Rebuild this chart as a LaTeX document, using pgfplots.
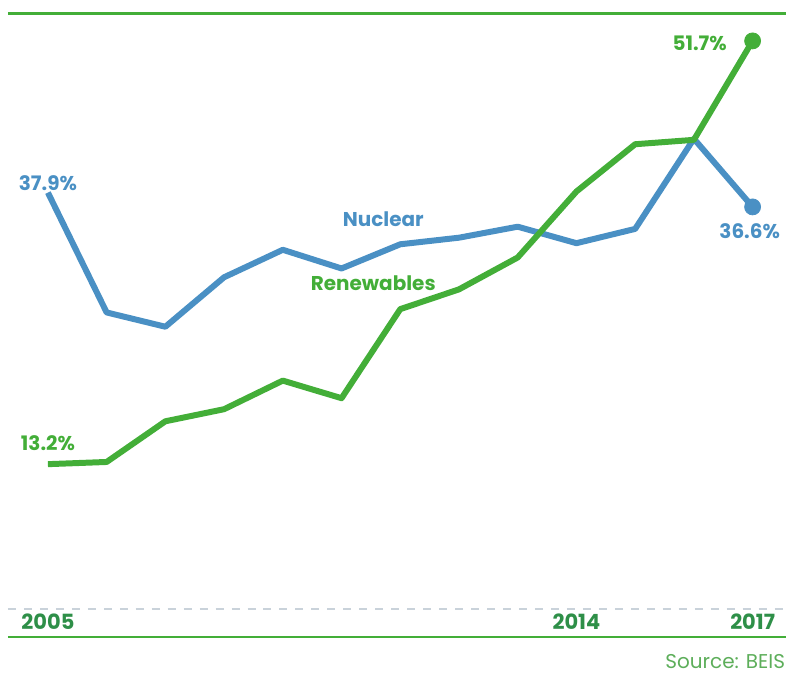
\documentclass[border=0pt]{standalone}
\usepackage{pgfplots}
\pgfplotsset{compat=1.18}
\usepackage{fontspec}
\setmainfont{Poppins}
\definecolor{nucblue}{HTML}{4A90C4}
\definecolor{rengreen}{HTML}{43AE38}
\definecolor{yeargreen}{HTML}{2E8F48}
\definecolor{srcgreen}{HTML}{5DAE5A}
\definecolor{zerogray}{HTML}{C9D2DA}

\begin{document}
\begin{tikzpicture}
  \begin{axis}[
    scale only axis,
    width=389.5pt, height=312pt,
    xmin=2004.32, xmax=2017.56,
    ymin=-2.5, ymax=54.15,
    axis lines=none,
    clip=false,
  ]
    % frame lines and zero line
    \draw[rengreen, line width=1.5pt] (rel axis cs:0,1) -- (rel axis cs:1,1);
    \draw[rengreen, line width=1.2pt] (rel axis cs:0,0) -- (rel axis cs:1,0);
    \draw[zerogray, line width=0.8pt, dash pattern=on 4pt off 4pt] (axis cs:2004.32,0) -- (axis cs:2017.56,0);
    \path (rel axis cs:0,1) -- ++(-4pt,7pt);

    % nuclear
    \addplot[nucblue, line width=3pt, line join=round] coordinates {
      (2005,37.9)(2006,27.0)(2007,25.7)(2008,30.2)(2009,32.7)(2010,31.0)
      (2011,33.2)(2012,33.8)(2013,34.8)(2014,33.3)(2015,34.6)(2016,42.8)(2017,36.6)};
    \addplot[nucblue, only marks, mark=*, mark size=4pt] coordinates {(2017,36.6)};

    % renewables
    \addplot[rengreen, line width=3pt, line join=round] coordinates {
      (2005,13.2)(2006,13.4)(2007,17.1)(2008,18.2)(2009,20.8)(2010,19.2)
      (2011,27.3)(2012,29.1)(2013,32.0)(2014,38.0)(2015,42.3)(2016,42.7)(2017,51.7)};
    \addplot[rengreen, only marks, mark=*, mark size=4pt] coordinates {(2017,51.7)};

    % labels
    \node[nucblue, font=\bfseries\fontsize{10}{12}\selectfont] at (axis cs:2005,38.8) {37.9\%};
    \node[rengreen, font=\bfseries\fontsize{10}{12}\selectfont] at (axis cs:2005,15.1) {13.2\%};
    \node[rengreen, font=\bfseries\fontsize{10}{12}\selectfont, anchor=east] at (axis cs:2016.68,51.5) {51.7\%};
    \node[nucblue, font=\bfseries\fontsize{10}{12}\selectfont] at (axis cs:2016.95,34.4) {36.6\%};
    \node[nucblue, font=\bfseries\fontsize{10}{12}\selectfont] at (axis cs:2010.71,35.5) {Nuclear};
    \node[rengreen, font=\bfseries\fontsize{10}{12}\selectfont] at (axis cs:2010.54,29.7) {Renewables};

    \node[yeargreen, font=\bfseries\fontsize{10.5}{12}\selectfont, anchor=base] at (axis cs:2005,-1.8) {2005};
    \node[yeargreen, font=\bfseries\fontsize{10.5}{12}\selectfont, anchor=base] at (axis cs:2014,-1.8) {2014};
    \node[yeargreen, font=\bfseries\fontsize{10.5}{12}\selectfont, anchor=base] at (axis cs:2017,-1.8) {2017};

    \node[srcgreen, font=\fontsize{10}{12}\selectfont, anchor=east, inner xsep=0pt] at ([yshift=-12.5pt]rel axis cs:1,0) {Source: BEIS};
  \end{axis}
\end{tikzpicture}
\end{document}
